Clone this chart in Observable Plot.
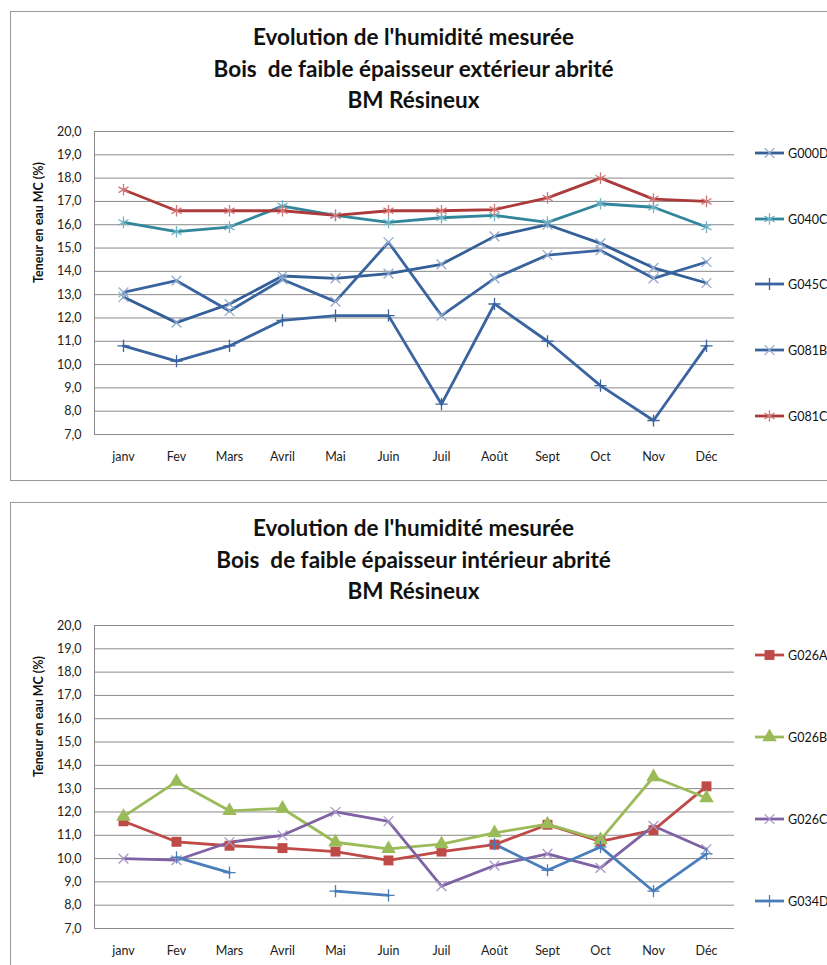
<!DOCTYPE html>
<html><head><meta charset="utf-8">
<script src="https://cdn.jsdelivr.net/npm/d3@7"></script>
<script src="https://cdn.jsdelivr.net/npm/@observablehq/plot@0.6"></script>
<style>
body{margin:0;background:#fff;font-family:Lato, "Open Sans", sans-serif;}
#page{position:relative;width:827px;height:965px;overflow:hidden;background:#fff;}
.box{position:absolute;left:10px;width:840px;border:1.5px solid #9a9a9a;box-sizing:border-box;}
.title{position:absolute;left:0;width:827px;text-align:center;font-weight:bold;font-size:22.5px;line-height:31.5px;color:#111;}
.chart{position:absolute;left:0;}
.leg{position:absolute;left:755px;height:16px;display:flex;align-items:center;font-size:12.5px;color:#111;}
.leg svg{display:block;margin-right:2px;}
</style></head>
<body><div id="page"></div>
<script>
// ---- data ----
const months = ["janv","Fev","Mars","Avril","Mai","Juin","Juil","Août","Sept","Oct","Nov","Déc"];
const yTicks = [7,8,9,10,11,12,13,14,15,16,17,18,19,20];

const titleTop = ["Evolution de l'humidité mesurée","Bois  de faible épaisseur extérieur abrité","BM Résineux"];
const titleBottom = ["Evolution de l'humidité mesurée","Bois  de faible épaisseur intérieur abrité","BM Résineux"];
const yLabel = "Teneur en eau MC (%)";

// top chart series
const G000D = [12.9,11.8,12.6,13.8,13.7,13.9,14.3,15.5,16.0,15.2,14.15,13.5];
const G040C = [16.1,15.7,15.9,16.8,16.4,16.1,16.3,16.4,16.1,16.9,16.75,15.9];
const G045C = [10.8,10.15,10.8,11.9,12.1,12.1,8.3,12.6,11.0,9.1,7.6,10.8];
const G081B = [13.1,13.6,12.3,13.65,12.7,15.25,12.1,13.7,14.7,14.9,13.7,14.4];
const G081C = [17.5,16.6,16.6,16.6,16.4,16.6,16.6,16.65,17.15,18.0,17.1,17.0];

// bottom chart series
const G026A = [11.6,10.72,10.55,10.45,10.3,9.92,10.3,10.6,11.45,10.74,11.22,13.1];
const G026B = [11.8,13.3,12.05,12.15,10.7,10.42,10.62,11.1,11.48,10.8,13.5,12.6];
const G026C = [10.0,9.93,10.7,11.0,12.0,11.6,8.82,9.7,10.2,9.6,11.4,10.4];
const G034D = [null,10.05,9.4,null,8.6,8.42,null,10.62,9.5,10.5,8.6,10.2];

// ---- styles per series ----
const topSeries = [
  {name:"G000D", values:G000D, color:"#335f99", mark:"#8ea9cc", symbol:"times", r:4.5, fill:"none"},
  {name:"G040C", values:G040C, color:"#31869b", mark:"#6db3c4", symbol:"asterisk", r:5.5, fill:"none"},
  {name:"G045C", values:G045C, color:"#3a64a0", mark:"#3a64a0", symbol:"plus", r:4, fill:"none"},
  {name:"G081B", values:G081B, color:"#3a64a0", mark:"#93acd0", symbol:"times", r:4.5, fill:"none"},
  {name:"G081C", values:G081C, color:"#ad3a3a", mark:"#d27777", symbol:"asterisk", r:5.5, fill:"none"}
];
const bottomSeries = [
  {name:"G026A", values:G026A, color:"#be4b48", mark:"#be4b48", symbol:"square", r:5.6, fill:"#be4b48"},
  {name:"G026B", values:G026B, color:"#9bbb59", mark:"#9bbb59", symbol:"triangle", r:5.4, fill:"#9bbb59"},
  {name:"G026C", values:G026C, color:"#7f62a3", mark:"#a896c6", symbol:"times", r:4.5, fill:"none"},
  {name:"G034D", values:G034D, color:"#4a7ebb", mark:"#4a7ebb", symbol:"plus", r:4, fill:"none"}
];

const page = document.getElementById("page");
const fmt = d => d.toFixed(1).replace(".", ",");

function box(top, height){
  const b = document.createElement("div");
  b.className = "box"; b.style.top = top+"px"; b.style.height = height+"px";
  page.appendChild(b);
}
function title(lines, top){
  const t = document.createElement("div");
  t.className = "title"; t.style.top = top+"px";
  t.innerHTML = lines.map(l => `<div>${l.replace(/  /g," &nbsp;")}</div>`).join("");
  page.appendChild(t);
}
function chart(series, top, height, mTop, mBottom){
  const marks = [
    Plot.gridY(yTicks, {stroke:"#8a8a8a", strokeOpacity:1, strokeWidth:1}),
    Plot.frame({anchor:"left", stroke:"#8a8a8a"}),
    Plot.axisY(yTicks, {tickSize:0, tickPadding:13, tickFormat:fmt, label:null, fontSize:12.5, fill:"#222"}),
    Plot.axisX({tickSize:0, tickPadding:18, label:null, fontSize:12.5, fill:"#222"}),
    Plot.text([yLabel], {frameAnchor:"left", rotate:-90, dx:-56, fontWeight:"bold", fontSize:12.5, fill:"#111"})
  ];
  for (const s of series) {
    const rows = months.map((m,i) => ({month:m, value:s.values[i]}));
    marks.push(Plot.lineY(rows, {x:"month", y:"value", stroke:s.color, strokeWidth:2.8}));
  }
  for (const s of series) {
    const rows = months.map((m,i) => ({month:m, value:s.values[i]})).filter(d => d.value != null);
    marks.push(Plot.dot(rows, {x:"month", y:"value", symbol:()=>s.symbol, r:s.r, stroke:s.fill==="none"?s.mark:"none", fill:s.fill, strokeWidth:1.3}));
  }
  const p = Plot.plot({
    width:827, height, marginLeft:94, marginRight:93, marginTop:mTop, marginBottom:mBottom,
    style:{fontFamily:"Lato, 'Open Sans', sans-serif", fontSize:"12.5px", background:"transparent", overflow:"visible"},
    x:{domain:months, type:"point", padding:0.5},
    y:{domain:[7,20]},
    symbol:{type:"identity"},
    marks
  });
  p.classList.add("chart");
  p.style.top = top+"px";
  page.appendChild(p);
}
const symMap = {times:d3.symbolTimes, asterisk:d3.symbolAsterisk, plus:d3.symbolPlus, square:d3.symbolSquare, triangle:d3.symbolTriangle};
function legend(series, ys){
  series.forEach((s,i) => {
    const d = document.createElement("div");
    d.className = "leg"; d.style.top = (ys[i]-8)+"px";
    const svg = d3.create("svg").attr("width",31).attr("height",16);
    svg.append("line").attr("x1",0).attr("x2",29).attr("y1",8).attr("y2",8).attr("stroke",s.color).attr("stroke-width",2.8);
    svg.append("path").attr("transform","translate(14.5,8)")
      .attr("d", d3.symbol(symMap[s.symbol], Math.PI*s.r*s.r)())
      .attr("fill", s.fill).attr("stroke", s.fill==="none"?s.mark:"none").attr("stroke-width",1.3);
    d.appendChild(svg.node());
    const sp = document.createElement("span"); sp.textContent = s.name;
    d.appendChild(sp);
    page.appendChild(d);
  });
}

box(11, 470);
title(titleTop, 21);
chart(topSeries, 120, 360, 11, 46);
legend(topSeries, [153,219,284,350,416]);

box(502, 480);
title(titleBottom, 512);
chart(bottomSeries, 614, 351, 11, 37);
legend(bottomSeries, [655,737,819,901]);
</script>
</body></html>
